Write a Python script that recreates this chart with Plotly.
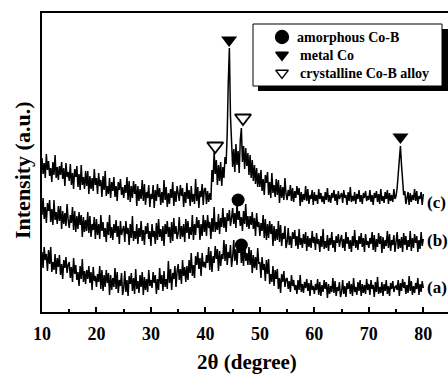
import numpy as np
import plotly.graph_objects as go

# 2-theta grid (degrees), 0.2 deg step from 10 to 80
two_theta = np.linspace(10, 80, 351)

# Intensities (arbitrary units, offset-stacked as in the figure); rows = 5 degrees
intensity_c = [
    154,138,149,134,158,142,151,136,144,130,150,137,157,134,145,132,146,137,150,133,144,126,149,135,140,
    131,148,127,139,123,143,135,146,125,138,122,147,127,135,123,141,126,141,118,136,123,134,121,143,127,
    134,118,139,126,132,115,136,122,141,116,126,118,134,114,130,121,135,115,126,111,130,122,133,117,125,
    114,127,119,135,112,131,110,126,114,131,118,128,106,126,111,123,113,132,111,128,107,120,114,127,105,
    118,113,127,104,122,111,128,115,124,107,120,109,132,112,125,105,119,108,123,114,130,106,121,110,126,
    119,111,127,116,124,105,120,109,129,113,122,106,126,110,118,108,133,111,125,104,121,115,128,107,123,
    124,108,121,110,119,112,142,130,160,138,152,127,147,131,150,126,145,134,155,148,178,230,264,196,158,
    145,163,140,168,147,161,139,172,184,150,166,143,164,146,159,137,157,134,152,131,147,128,144,125,139,
    125,142,121,133,117,137,129,140,117,130,114,139,119,127,115,133,117,132,109,127,114,125,112,134,118,
    112,122,116,127,111,124,110,121,114,126,117,124,106,120,110,118,112,126,111,123,108,117,113,122,107,
    120,111,117,108,123,113,119,110,116,108,120,112,124,110,117,109,119,114,122,111,118,107,121,113,116,
    119,109,122,114,117,107,120,111,125,110,116,111,120,108,118,113,122,110,117,108,119,114,121,111,116,
    112,122,110,117,107,119,114,121,110,118,108,123,111,116,109,120,113,122,108,119,111,117,110,123,113,
    116,124,136,152,166,147,128,117,121,108,114,120,107,119,110,117,112,123,111,121,108,116,113,120,107,
    118,
]
intensity_b = [
    97,114,93,105,89,109,101,112,90,103,87,112,92,100,88,106,91,106,83,101,88,99,86,108,92,
    84,97,89,105,82,101,80,96,83,100,87,97,75,95,80,92,81,100,79,96,75,88,82,95,73,
    93,77,88,73,97,81,90,75,84,70,90,77,97,74,85,72,88,79,92,75,86,68,91,77,82,
    86,70,91,78,84,67,88,74,96,71,81,73,88,68,84,75,91,71,82,67,86,78,89,73,81,
    66,88,75,81,68,89,72,93,75,83,71,86,66,88,78,91,75,85,69,90,71,94,78,86,73,
    79,95,73,86,75,88,70,93,79,91,73,85,77,97,72,88,77,95,84,92,72,88,76,97,80,
    92,76,97,84,90,73,94,80,105,80,90,82,98,78,94,85,104,84,95,80,99,91,102,86,94,
    104,88,99,84,108,92,101,86,95,81,101,88,108,85,96,83,96,87,100,83,94,76,99,85,90,
    76,89,81,97,74,93,72,88,74,91,78,88,66,86,71,83,72,91,70,87,66,79,73,86,64,
    70,84,67,76,64,80,73,82,66,76,63,83,67,74,64,78,68,80,61,76,65,74,64,81,69,
    75,62,79,68,73,60,76,65,83,63,71,64,77,61,74,67,80,64,72,60,76,69,78,65,72,
    77,64,73,61,80,68,75,63,72,60,76,66,82,64,72,62,76,68,79,65,74,60,78,67,71,
    64,74,68,80,62,77,60,73,65,79,68,76,59,75,63,72,66,81,64,78,61,72,67,77,60,
    68,80,63,73,64,75,60,79,67,76,62,72,65,81,61,74,64,78,69,76,60,72,63,80,66,
    73,
]
intensity_a = [
    60,44,65,52,58,41,62,48,65,40,50,42,58,38,54,45,57,37,48,33,52,44,55,39,47,
    50,34,45,30,54,38,47,32,40,26,46,33,53,30,41,28,42,33,46,29,40,22,45,31,36,
    25,38,30,46,23,42,21,37,25,42,29,39,17,37,22,34,25,44,23,40,19,32,26,39,17,
    24,41,20,32,16,36,28,39,21,34,18,43,23,31,19,37,25,40,17,35,22,33,20,42,26,
    32,24,40,29,37,18,33,22,44,28,37,21,41,25,33,23,51,29,43,22,39,33,46,25,41,
    48,32,43,28,52,36,45,30,46,32,52,39,59,36,47,34,56,47,60,43,54,36,59,45,50,
    44,57,49,65,42,61,40,56,49,66,53,63,41,61,46,58,53,72,51,68,47,60,54,67,45,
    55,72,51,63,47,67,59,70,49,62,46,71,51,59,47,65,47,62,39,57,44,55,42,64,48,
    50,34,55,42,48,31,52,38,53,28,38,30,46,26,42,33,43,23,34,19,38,30,41,25,33,
    34,23,31,20,37,26,32,22,27,18,32,22,37,20,28,19,30,24,33,21,29,16,32,22,26,
    18,28,22,33,17,30,16,27,20,32,23,30,14,28,18,26,20,34,19,31,16,25,21,30,15,
    20,32,18,26,15,29,23,31,18,28,16,34,20,25,17,30,21,32,16,28,19,27,18,33,22,
    28,17,32,23,27,15,30,20,35,18,25,19,30,16,28,21,32,18,26,16,29,23,31,20,25,
    26,22,32,16,29,21,33,24,30,18,27,19,36,21,31,17,26,19,29,23,34,17,28,20,31,
    24,
]

series_labels = ["(c)", "(b)", "(a)"]
series_label_y = [110, 72, 25]

# Peak markers
metal_co_x = [44.35, 75.8]
metal_co_y = [272, 175]
cryst_cob_x = [41.8, 46.9]
cryst_cob_y = [166, 194]
amorph_cob_x = [46.0, 46.6]
amorph_cob_y = [112, 67]

legend_names = ["amorphous Co-B", "metal Co", "crystalline Co-B alloy"]

FONT = "Liberation Serif"
PXU = 381.3 / 70  # pixels per degree


def bold(size):
    return dict(family=FONT, size=size, color="black", weight="bold")


def px2x(px):
    return 10 + (px - 42) / PXU


fig = go.Figure()
for ys in (intensity_c, intensity_b, intensity_a):
    fig.add_trace(go.Scatter(x=two_theta, y=ys, mode="lines",
                             line=dict(color="black", width=1.5),
                             showlegend=False, hoverinfo="skip"))

fig.add_trace(go.Scatter(x=metal_co_x, y=metal_co_y, mode="markers",
                         marker=dict(symbol="triangle-down", size=14, color="black"),
                         showlegend=False))
fig.add_trace(go.Scatter(x=cryst_cob_x, y=cryst_cob_y, mode="markers",
                         marker=dict(symbol="triangle-down-open", size=14, color="black",
                                     line=dict(width=1.8, color="black")),
                         showlegend=False))
fig.add_trace(go.Scatter(x=amorph_cob_x, y=amorph_cob_y, mode="markers",
                         marker=dict(symbol="circle", size=13, color="black"),
                         showlegend=False))

# Custom legend (box with drop shadow)
fig.add_shape(type="rect", xref="x", yref="y", x0=px2x(258), x1=px2x(470),
              y0=312 - 91, y1=312 - 29, fillcolor="black", line=dict(width=0),
              layer="below")
fig.add_shape(type="rect", xref="x", yref="y", x0=px2x(253), x1=px2x(442),
              y0=312 - 86, y1=312 - 24, fillcolor="white",
              line=dict(color="black", width=1), layer="below")
leg_sym = ["circle", "triangle-down", "triangle-down-open"]
leg_sizes = [13, 11, 11]
leg_py = [37, 55, 73]
leg_tx = [295, 298, 298]
for name, sym, sz, py, tx in zip(legend_names, leg_sym, leg_sizes, leg_py, leg_tx):
    fig.add_trace(go.Scatter(x=[px2x(282)], y=[312 - py], mode="markers",
                             marker=dict(symbol=sym, size=sz, color="black",
                                         line=dict(width=1.3, color="black")),
                             showlegend=False))
    fig.add_annotation(x=px2x(tx), y=312 - py, text=name,
                       xanchor="left", yanchor="middle", showarrow=False,
                       font=bold(14))

for lab, ly in zip(series_labels, series_label_y):
    fig.add_annotation(x=px2x(425), y=ly, text=lab, xanchor="left", yanchor="middle",
                       showarrow=False, font=bold(17))

fig.add_annotation(xref="paper", yref="paper", x=(247 - 42) / 406, y=-(362 - 312) / 299,
                   text="2θ (degree)", showarrow=False, xanchor="center", yanchor="middle",
                   font=bold(21))
fig.add_annotation(xref="paper", yref="paper", x=-(42 - 22) / 406, y=(312 - 170) / 299,
                   text="Intensity (a.u.)", showarrow=False, textangle=-90,
                   xanchor="center", yanchor="middle",
                   font=bold(22))

fig.update_layout(
    width=448, height=374,
    margin=dict(l=42, r=0, t=13, b=62),
    paper_bgcolor="white", plot_bgcolor="white",
    font=dict(family=FONT, color="black"),
    showlegend=False,
)
fig.update_xaxes(range=[10, 10 + 406 / PXU], showline=True, linewidth=2,
                 linecolor="black", mirror=True, showgrid=False, zeroline=False,
                 ticks="inside", ticklen=5, tickwidth=2, tickcolor="black",
                 tickvals=[10, 20, 30, 40, 50, 60, 70, 80],
                 tickfont=bold(18), ticklabelstandoff=4,
                 minor=dict(ticks="inside", ticklen=3, tickwidth=2, tickcolor="black",
                            tickvals=[15, 25, 35, 45, 55, 65, 75]))
fig.update_yaxes(range=[0, 299], showline=True, linewidth=2, linecolor="black",
                 mirror=False, showgrid=False, zeroline=False, showticklabels=False,
                 ticks="")

fig.write_html("out.html")
